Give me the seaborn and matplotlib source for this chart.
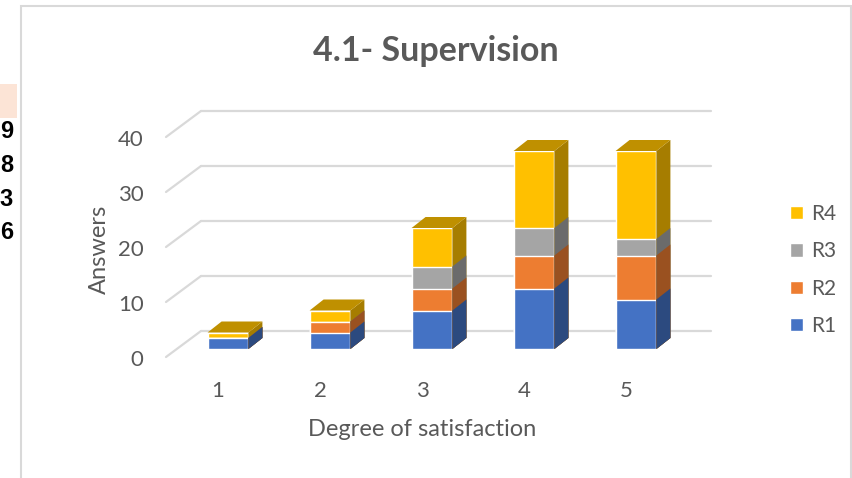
"""
4.1- Supervision: stacked 3D-look bar chart (Excel style) redrawn with seaborn.
"""

import matplotlib
matplotlib.use("Agg")
import pandas as pd
import matplotlib.pyplot as plt
import matplotlib.transforms as mtransforms
from matplotlib.patches import Polygon, Rectangle
import seaborn as sns

# ──────────────────────────────────────────────────────────
#  Data
# ──────────────────────────────────────────────────────────
CATEGORIES = ["1", "2", "3", "4", "5"]
SERIES     = ["R1", "R2", "R3", "R4"]
R1 = [2, 3, 7, 11, 9]
R2 = [0, 2, 4, 6, 8]
R3 = [0, 0, 4, 5, 3]
R4 = [1, 2, 7, 14, 16]
Y_TICKS      = [0, 10, 20, 30, 40]
SIDE_NUMBERS = ["9", "8", "3", "6"]   # clipped spreadsheet column at the left edge

COLORS = {"R1": "#4472C4", "R2": "#ED7D31", "R3": "#A5A5A5", "R4": "#FFC000"}
TEXT   = "#595959"
GRID   = "#D9D9D9"

W, H, DPI = 852, 478, 100

# pixel offsets of the fake 3D (right, up)
BAR_DEPTH = (14, 11)
WALL      = (24, 18)
FLOOR     = (-11, -8)


def shade(hex_color, k):
    r, g, b = matplotlib.colors.to_rgb(hex_color)
    return (r * k, g * k, b * k)


sns.set_theme(style="white")
plt.rcParams["font.family"] = ["Lato", "DejaVu Sans"]

df  = pd.DataFrame({"category": CATEGORIES, "R1": R1, "R2": R2, "R3": R3, "R4": R4})
cum = df[SERIES].cumsum(axis=1)

fig = plt.figure(figsize=(W / DPI, H / DPI), dpi=DPI)
ax  = fig.add_axes([177 / W, 1 - 349 / H, 510 / W, 220 / H])

# tallest cumulative first, smaller ones painted over it
bars = {}
for s in SERIES[::-1]:
    n0 = len(ax.patches)
    sns.barplot(x=df["category"], y=cum[s], color=COLORS[s], width=0.4,
                saturation=1, errorbar=None, label=s, ax=ax, zorder=3)
    bars[s] = ax.patches[n0:]

ax.set_xlim(-0.5, len(CATEGORIES) - 0.5)
ax.set_ylim(0, 40)


def px_to_data(dx, dy):
    x0, y0 = ax.transData.transform((0, 0))
    x1, y1 = ax.transData.inverted().transform((x0 + dx, y0 + dy))
    return x1, y1


bx, by = px_to_data(*BAR_DEPTH)
wx, wy = px_to_data(*WALL)
fx, fy = px_to_data(*FLOOR)

# back wall gridlines + left floor diagonals
x_lo, x_hi = ax.get_xlim()
for v in Y_TICKS:
    ax.plot([x_lo + wx, x_hi + wx], [v + wy, v + wy], color=GRID, lw=1.6, zorder=1, clip_on=False)
    ax.plot([x_lo + fx, x_lo + wx], [v + fy, v + wy], color=GRID, lw=1.6, zorder=1, clip_on=False)

# side faces, same painting order as the front faces
for s in SERIES[::-1]:
    for p in bars[s]:
        xr, h = p.get_x() + p.get_width(), p.get_height()
        ax.add_patch(Polygon([(xr, 0), (xr + bx, by), (xr + bx, h + by), (xr, h)],
                             closed=True, facecolor=shade(COLORS[s], 0.65),
                             edgecolor="none", zorder=3, clip_on=False))

# top faces, coloured by the highest non-empty segment
for i, p in enumerate(bars[SERIES[-1]]):
    top = [s for s in SERIES if df.loc[i, s] > 0][-1]
    xl, xr, h = p.get_x(), p.get_x() + p.get_width(), p.get_height()
    ax.add_patch(Polygon([(xl, h), (xl + bx, h + by), (xr + bx, h + by), (xr, h)],
                         closed=True, facecolor=shade(COLORS[top], 0.75),
                         edgecolor="none", zorder=3, clip_on=False))

# ──────────────────────────────────────────────────────────
#  Axes, labels, legend
# ──────────────────────────────────────────────────────────
sns.despine(ax=ax, left=True, bottom=True)
ax.set_yticks(Y_TICKS)
ax.tick_params(axis="both", length=0, labelsize=16, labelcolor=TEXT)
ax.tick_params(axis="y", pad=24)
ax.tick_params(axis="x", pad=17)
for lab in ax.get_yticklabels():
    lab.set_transform(lab.get_transform() + mtransforms.ScaledTranslation(0, -9 / DPI, fig.dpi_scale_trans))
for lab in ax.get_xticklabels():
    lab.set_transform(lab.get_transform() + mtransforms.ScaledTranslation(-10 / DPI, -8 / DPI, fig.dpi_scale_trans))

ax.set_xlabel("Degree of satisfaction", fontsize=17, color=TEXT)
ax.set_ylabel("Answers", fontsize=17, color=TEXT)
ax.xaxis.set_label_coords((422 - 177) / 510, (349 - 419) / 220)
ax.yaxis.set_label_coords((110 - 177) / 510, (349 - 249) / 220)

ax.set_title("4.1- Supervision", fontsize=24.5, fontweight="bold", color=TEXT,
             y=(349 - 61) / 220, pad=0)
ax.title.set_x((436 - 177) / 510)

ax.legend(loc="upper left", bbox_to_anchor=(790 / W, 1 - 204 / H),
          bbox_transform=fig.transFigure, frameon=False, fontsize=15,
          handlelength=0.62, handleheight=0.62, handletextpad=0.4,
          labelspacing=0.83, labelcolor=TEXT, borderpad=0, borderaxespad=0)

# chart frame and the clipped spreadsheet cells on the left
fig.add_artist(Rectangle((21 / W, -0.05), (851 - 21) / W, 1.05 - 6 / H,
                         transform=fig.transFigure, fill=False,
                         edgecolor=GRID, lw=1.5))
fig.add_artist(Rectangle((0, 1 - 118 / H), 17 / W, 34 / H,
                         transform=fig.transFigure, facecolor="#FCE4D6",
                         edgecolor="none"))
for i, t in enumerate(SIDE_NUMBERS):
    fig.text(13 / W, 1 - (132 + 33.5 * i) / H, t, ha="right", va="center",
             fontsize=17, fontweight="bold", color="black",
             family=["Liberation Sans", "DejaVu Sans"])

fig.savefig("out.png", dpi=DPI)
plt.close(fig)
